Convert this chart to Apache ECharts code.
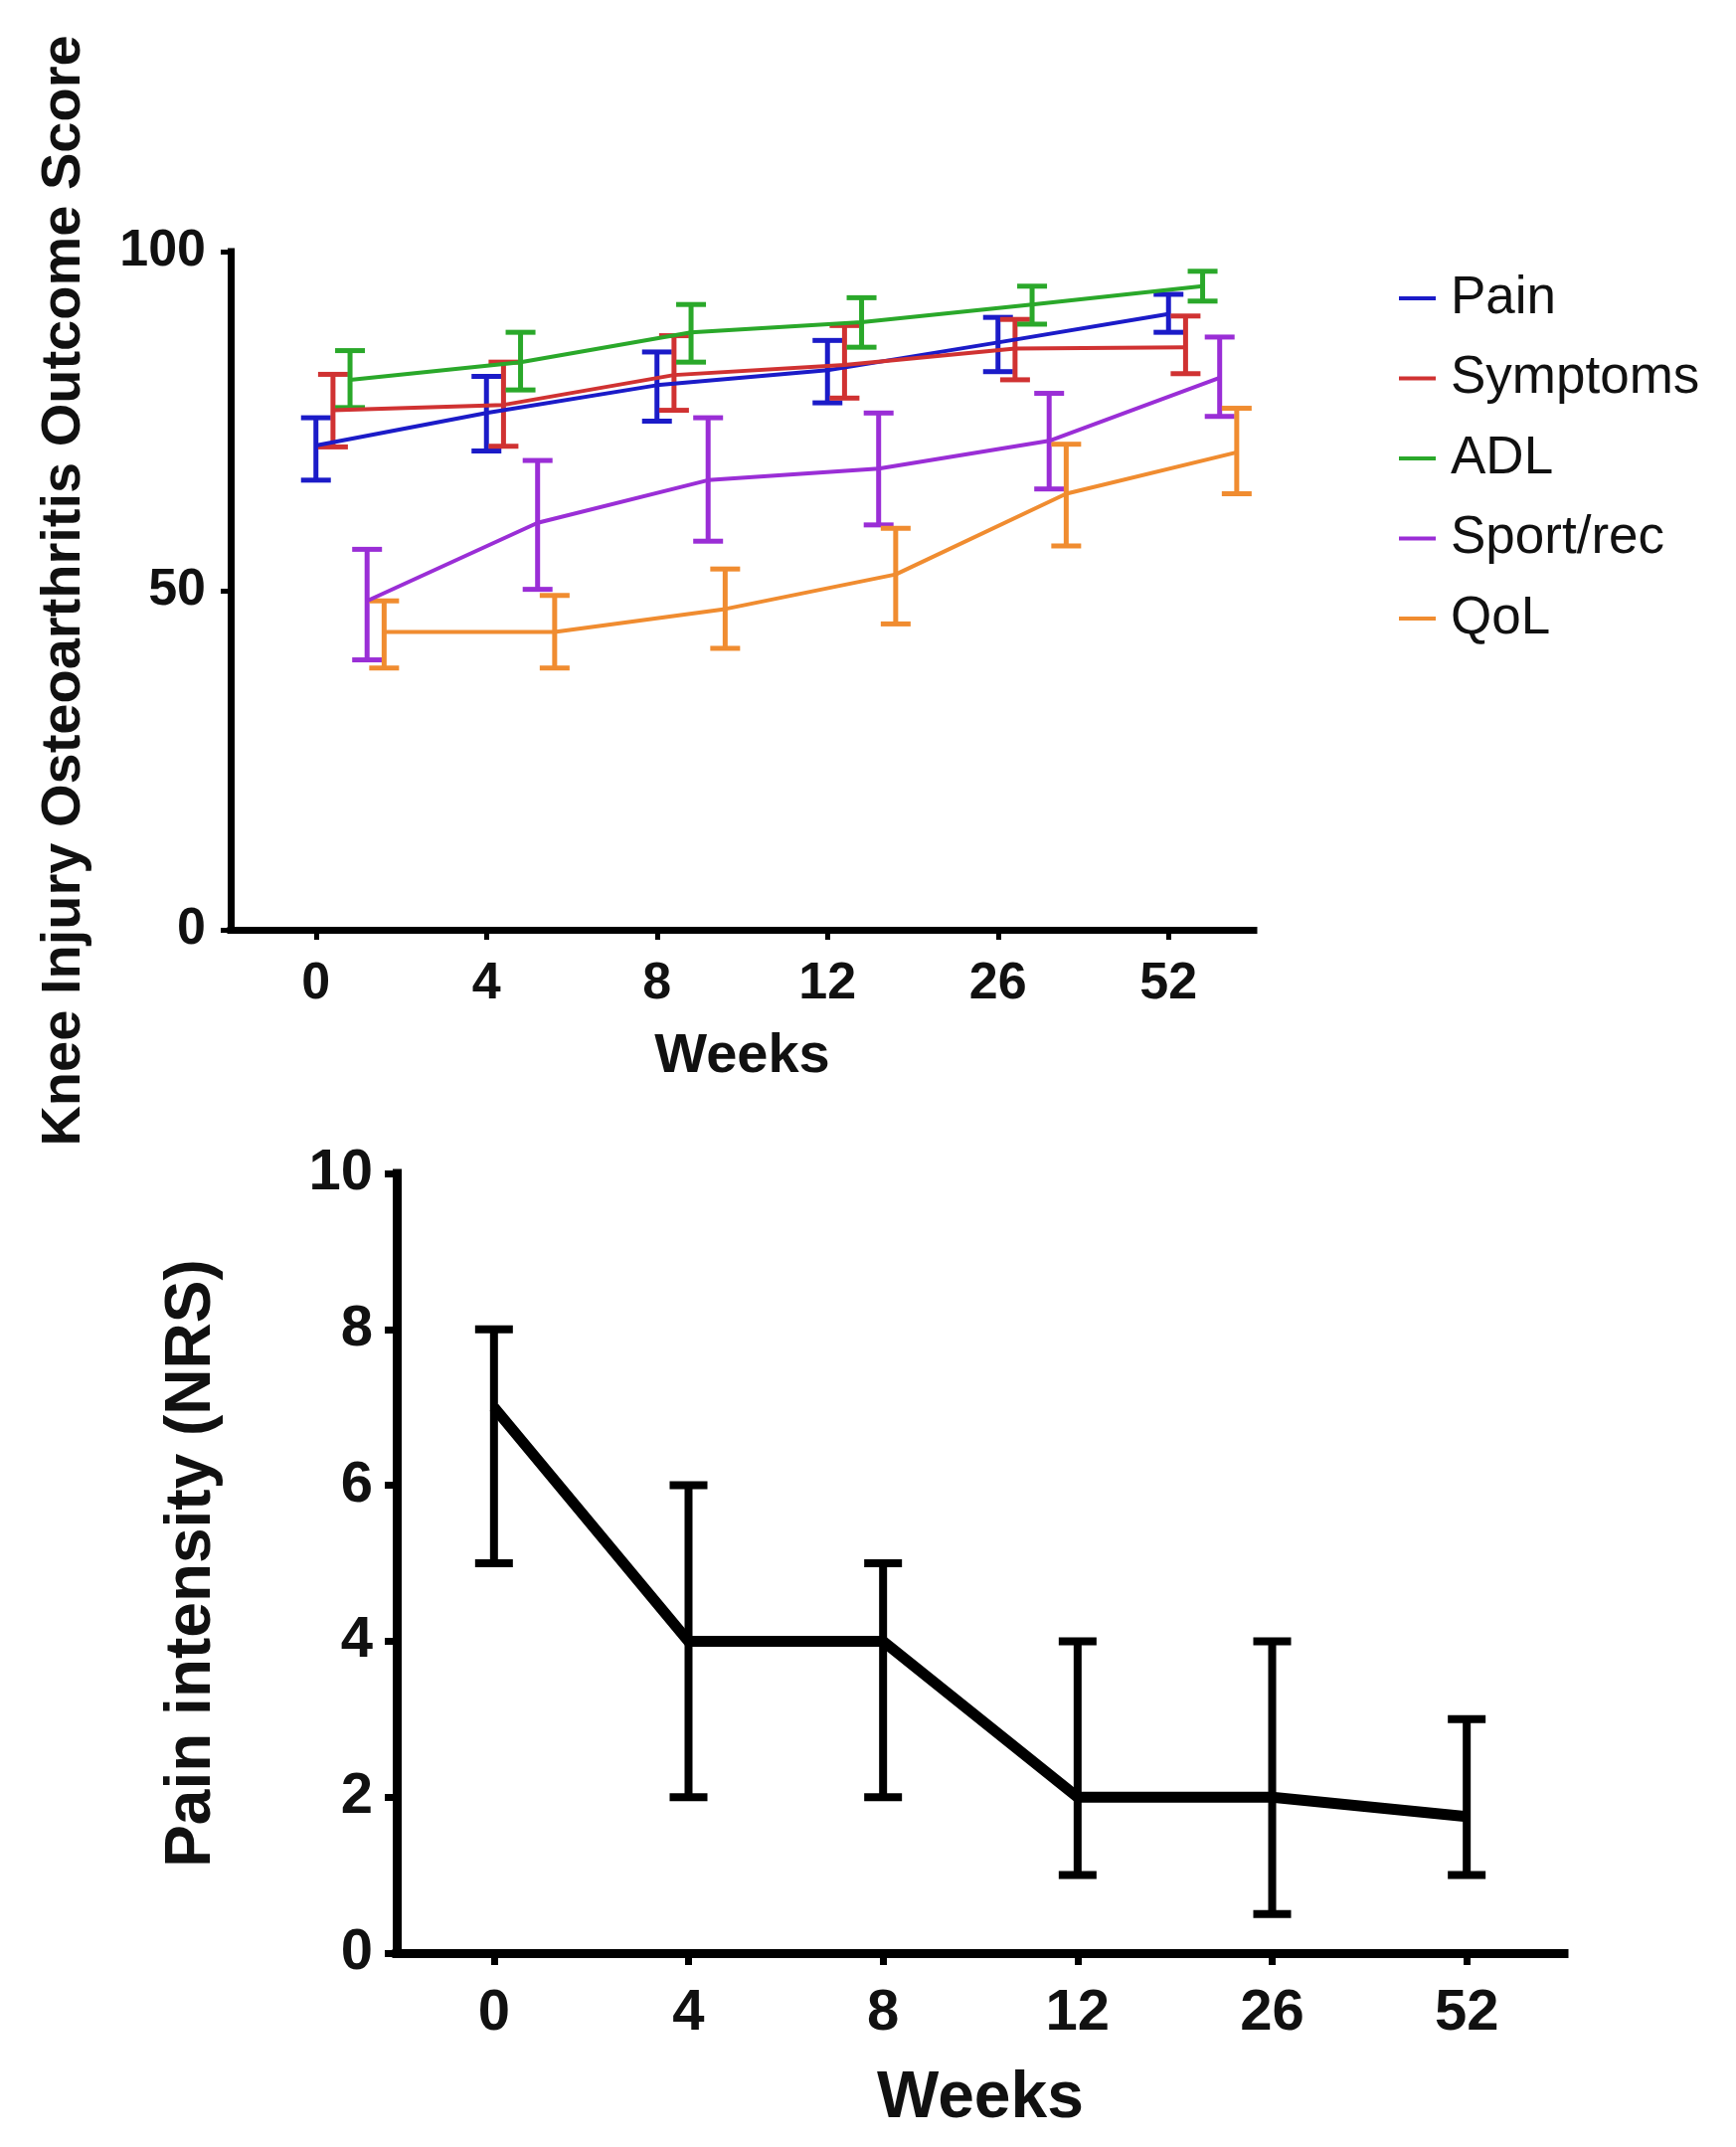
<!DOCTYPE html>
<html><head><meta charset="utf-8">
<script src="https://cdn.jsdelivr.net/npm/echarts@6/dist/echarts.min.js"></script>
<style>html,body{margin:0;padding:0;background:#fff}#c{width:1746px;height:2159px}</style>
</head><body><div id="c"></div>
<script>
// ---- data ----
const weeks = ['0', '4', '8', '12', '26', '52'];
const seriesNames = ['Pain', 'Symptoms', 'ADL', 'Sport/rec', 'QoL'];

const painMean = [71.4, 76.2, 80.3, 82.5, 86.6, 90.8];
const painLow  = [66.3, 70.6, 75.0, 77.7, 82.3, 88.1];
const painHigh = [75.5, 81.6, 85.2, 86.9, 90.3, 93.7];

const symMean = [76.6, 77.4, 81.8, 83.3, 85.7, 85.9];
const symLow  = [71.2, 71.3, 76.6, 78.4, 81.1, 82.0];
const symHigh = [81.9, 83.7, 87.6, 89.1, 90.0, 90.5];

const adlMean = [81.1, 83.7, 88.1, 89.6, 92.2, 94.9];
const adlLow  = [77.0, 79.6, 83.7, 85.9, 89.3, 92.7];
const adlHigh = [85.4, 88.1, 92.2, 93.2, 94.9, 97.1];

const sportMean = [48.5, 60.0, 66.3, 68.0, 72.1, 81.4];
const sportLow  = [39.8, 50.2, 57.3, 59.7, 65.0, 75.7];
const sportHigh = [56.1, 69.2, 75.5, 76.2, 79.1, 87.4];

const qolMean = [43.9, 43.9, 47.3, 52.4, 64.3, 70.4];
const qolLow  = [38.6, 38.6, 41.5, 45.1, 56.6, 64.3];
const qolHigh = [48.5, 49.3, 53.2, 59.2, 71.6, 76.9];

const nrsMean = [7, 4, 4, 2, 2, 1.75];
const nrsLow  = [5, 2, 2, 1, 0.5, 1];
const nrsHigh = [8, 6, 5, 4, 4, 3];

const topYTicks = [0, 50, 100];
const botYTicks = [0, 2, 4, 6, 8, 10];

// ---- styles ----
const colors = ['#1b1bc8', '#d03232', '#2aa82a', '#9a2ed6', '#f08c30'];
const stagger = [0, 0.1, 0.2, 0.3, 0.4];
const sans = "'Liberation Sans',Arial,Helvetica,sans-serif";
const ink = '#111';

const topSets = [
  [painMean, painLow, painHigh],
  [symMean, symLow, symHigh],
  [adlMean, adlLow, adlHigh],
  [sportMean, sportLow, sportHigh],
  [qolMean, qolLow, qolHigh]
];

function errorBars(name, low, high, offset, color, xi, yi, lw, cap) {
  return {
    type: 'custom', name: name, xAxisIndex: xi, yAxisIndex: yi, silent: true, z: 3,
    data: low.map((l, i) => [i + offset, l, high[i]]),
    encode: { x: 0, y: [1, 2] },
    renderItem: function (params, api) {
      const x = api.value(0);
      const a = api.coord([x, api.value(1)]);
      const b = api.coord([x, api.value(2)]);
      const h = cap / 2;
      const st = { stroke: color, lineWidth: lw };
      return { type: 'group', children: [
        { type: 'line', shape: { x1: a[0], y1: a[1], x2: b[0], y2: b[1] }, style: st },
        { type: 'line', shape: { x1: a[0] - h, y1: a[1], x2: a[0] + h, y2: a[1] }, style: st },
        { type: 'line', shape: { x1: b[0] - h, y1: b[1], x2: b[0] + h, y2: b[1] }, style: st }
      ]};
    }
  };
}

const series = [];
topSets.forEach((s, k) => {
  series.push({
    type: 'line', name: seriesNames[k], xAxisIndex: 1, yAxisIndex: 0,
    data: s[0].map((v, i) => [i + stagger[k], v]),
    showSymbol: false, symbol: 'none', clip: false, z: 4,
    lineStyle: { width: 4, color: colors[k] }, itemStyle: { color: colors[k] }
  });
  series.push(errorBars(seriesNames[k] + ' SD', s[1], s[2], stagger[k], colors[k], 1, 0, 5, 30));
});
series.push({
  type: 'line', name: 'Pain intensity', xAxisIndex: 2, yAxisIndex: 1,
  data: nrsMean, showSymbol: false, symbol: 'none', clip: false, z: 4,
  lineStyle: { width: 11, color: '#000', join: 'miter' }, itemStyle: { color: '#000' }
});
series.push(errorBars('Pain intensity SD', nrsLow, nrsHigh, 0, '#000', 2, 1, 8, 38));

function axisLineStyle(w) { return { show: true, onZero: false, lineStyle: { color: '#000', width: w, cap: 'square' } }; }
function boldText(size) { return { fontFamily: sans, fontWeight: 'bold', fontSize: size, color: ink }; }

const option = {
  animation: false,
  backgroundColor: '#ffffff',
  grid: [
    { left: 232, top: 253, width: 1029, height: 682 },
    { left: 399, top: 1180, width: 1174, height: 784 }
  ],
  legend: {
    data: seriesNames, orient: 'vertical', left: 1402, top: 265,
    icon: 'rect', itemWidth: 37, itemHeight: 4, itemGap: 20.5,
    textStyle: { fontFamily: sans, fontSize: 53, color: ink, lineHeight: 60, padding: [0, 0, 0, 10] }
  },
  xAxis: [
    { gridIndex: 0, type: 'category', data: weeks, boundaryGap: true,
      axisLine: axisLineStyle(7),
      axisTick: { show: true, alignWithLabel: true, length: 10, lineStyle: { color: '#000', width: 5 } },
      axisLabel: Object.assign({ margin: 29 }, boldText(52)),
      name: 'Weeks', nameLocation: 'middle', nameGap: 100,
      nameTextStyle: boldText(56) },
    { gridIndex: 0, type: 'value', min: -0.5, max: 5.5, show: false },
    { gridIndex: 1, type: 'category', data: weeks, boundaryGap: true,
      axisLine: axisLineStyle(9),
      axisTick: { show: true, alignWithLabel: true, length: 12, lineStyle: { color: '#000', width: 7 } },
      axisLabel: Object.assign({ margin: 32 }, boldText(58)),
      name: 'Weeks', nameLocation: 'middle', nameGap: 114,
      nameTextStyle: boldText(66) }
  ],
  yAxis: [
    { gridIndex: 0, type: 'value', min: topYTicks[0], max: topYTicks[topYTicks.length - 1], interval: 50,
      splitLine: { show: false }, axisLine: axisLineStyle(7),
      axisTick: { show: true, length: 10, lineStyle: { color: '#000', width: 5 } },
      axisLabel: Object.assign({ margin: 25 }, boldText(52)),
      name: 'Knee Injury Osteoarthritis Outcome Score', nameLocation: 'middle', nameGap: 139,
      nameTextStyle: boldText(56) },
    { gridIndex: 1, type: 'value', min: botYTicks[0], max: botYTicks[botYTicks.length - 1], interval: 2,
      splitLine: { show: false }, axisLine: axisLineStyle(9),
      axisTick: { show: true, length: 12, lineStyle: { color: '#000', width: 7 } },
      axisLabel: Object.assign({ margin: 24 }, boldText(58)),
      name: 'Pain intensity (NRS)', nameLocation: 'middle', nameGap: 174,
      nameTextStyle: boldText(64) }
  ],
  series: series
};

const chart = echarts.init(document.getElementById('c'), null, { renderer: 'canvas' });
chart.setOption(option);
</script>
</body></html>
